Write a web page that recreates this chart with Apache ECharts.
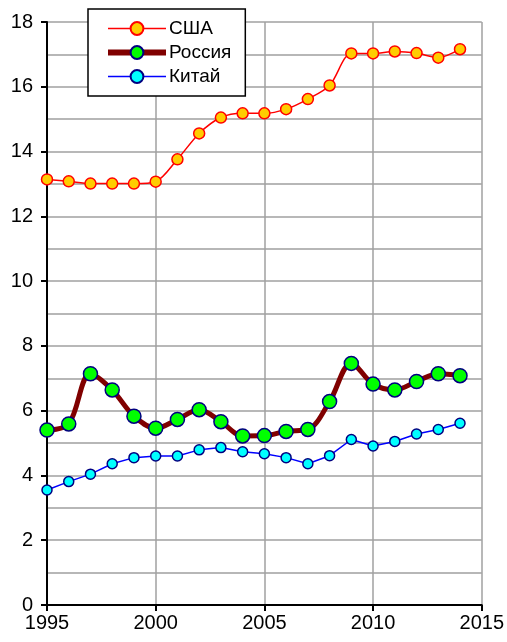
<!DOCTYPE html>
<html>
<head>
<meta charset="utf-8">
<script src="https://cdn.jsdelivr.net/npm/echarts@6/dist/echarts.min.js"></script>
<style>
  html, body { margin: 0; padding: 0; background: #fff; }
  #chart { width: 507px; height: 642px; }
</style>
</head>
<body>
<div id="chart"></div>
<script>
  // годы и значения
  const years = [1995, 1996, 1997, 1998, 1999, 2000, 2001, 2002, 2003, 2004,
    2005, 2006, 2007, 2008, 2009, 2010, 2011, 2012, 2013, 2014]
  const usa = [13.14, 13.08, 13.01, 13.01, 13.01, 13.07, 13.76, 14.56, 15.05, 15.18,
    15.18, 15.31, 15.62, 16.04, 17.03, 17.03, 17.09, 17.04, 16.90, 17.16]
  const russia = [5.40, 5.59, 7.14, 6.64, 5.83, 5.46, 5.73, 6.03, 5.66, 5.22,
    5.23, 5.36, 5.42, 6.28, 7.46, 6.82, 6.64, 6.90, 7.14, 7.08]
  const china = [3.55, 3.81, 4.04, 4.36, 4.55, 4.60, 4.60, 4.79, 4.86, 4.73,
    4.67, 4.55, 4.36, 4.61, 5.11, 4.91, 5.05, 5.28, 5.42, 5.61]
  const seriesNames = ['США', 'Россия', 'Китай']

  function pairs (vals) {
    return years.map((y, i) => [y, vals[i]])
  }

  let chart = echarts.init(document.getElementById('chart'), null, {renderer: 'canvas'})
  let gridColor = '#a0a0a0'
  let font = 'Liberation Sans, Arial, sans-serif'
  let option = {
    animation: false,
    grid: {left: 47, right: 25, top: 22, bottom: 37},
    legend: {
      orient: 'vertical',
      left: 88,
      top: 9,
      padding: [10, 14, 10, 17],
      itemGap: 5,
      itemWidth: 58,
      itemHeight: 16,
      backgroundColor: '#fff',
      borderColor: '#000',
      borderWidth: 1.5,
      borderRadius: 0,
      textStyle: {fontFamily: font, fontSize: 19, color: '#000', padding: [0, 0, 0, -2]},
      data: [
        {name: seriesNames[0], lineStyle: {width: 1.5}},
        {name: seriesNames[1], lineStyle: {width: 6}},
        {name: seriesNames[2], lineStyle: {width: 1.5}}
      ]
    },
    xAxis: {
      type: 'value',
      min: 1995,
      max: 2015,
      interval: 5,
      axisLine: {onZero: false, lineStyle: {color: '#000', width: 2}},
      axisTick: {show: true, length: 6, lineStyle: {color: '#000', width: 2}},
      axisLabel: {color: '#000', fontFamily: font, fontSize: 20, margin: 8, formatter: v => String(v)},
      splitLine: {show: true, lineStyle: {color: gridColor, width: 1.5}}
    },
    yAxis: {
      type: 'value',
      min: 0,
      max: 18,
      interval: 2,
      axisLine: {show: true, lineStyle: {color: '#000', width: 2}},
      axisTick: {show: true, length: 6, lineStyle: {color: '#000', width: 2}},
      axisLabel: {color: '#000', fontFamily: font, fontSize: 20, margin: 14},
      splitLine: {show: true, lineStyle: {color: gridColor, width: 1.5}},
      minorTick: {show: false, splitNumber: 2},
      minorSplitLine: {show: true, lineStyle: {color: gridColor, width: 1.5}}
    },
    series: [
      {
        name: 'Китай',
        type: 'line',
        data: pairs(china),
        symbol: 'circle',
        symbolSize: 10,
        lineStyle: {color: '#0000ff', width: 1.5},
        itemStyle: {color: '#00ffff', borderColor: '#000080', borderWidth: 1.5},
        z: 2
      },
      {
        name: 'Россия',
        type: 'line',
        data: pairs(russia),
        smooth: 0.35,
        symbol: 'circle',
        symbolSize: 14,
        lineStyle: {color: '#800000', width: 5},
        itemStyle: {color: '#00ff00', borderColor: '#000080', borderWidth: 1.5},
        z: 3
      },
      {
        name: 'США',
        type: 'line',
        data: pairs(usa),
        smooth: 0.3,
        symbol: 'circle',
        symbolSize: 11,
        lineStyle: {color: '#ff0000', width: 1.5},
        itemStyle: {color: '#ffcc00', borderColor: '#ff0000', borderWidth: 1.5},
        z: 4
      }
    ]
  }
  chart.setOption(option)
</script>
</body>
</html>
